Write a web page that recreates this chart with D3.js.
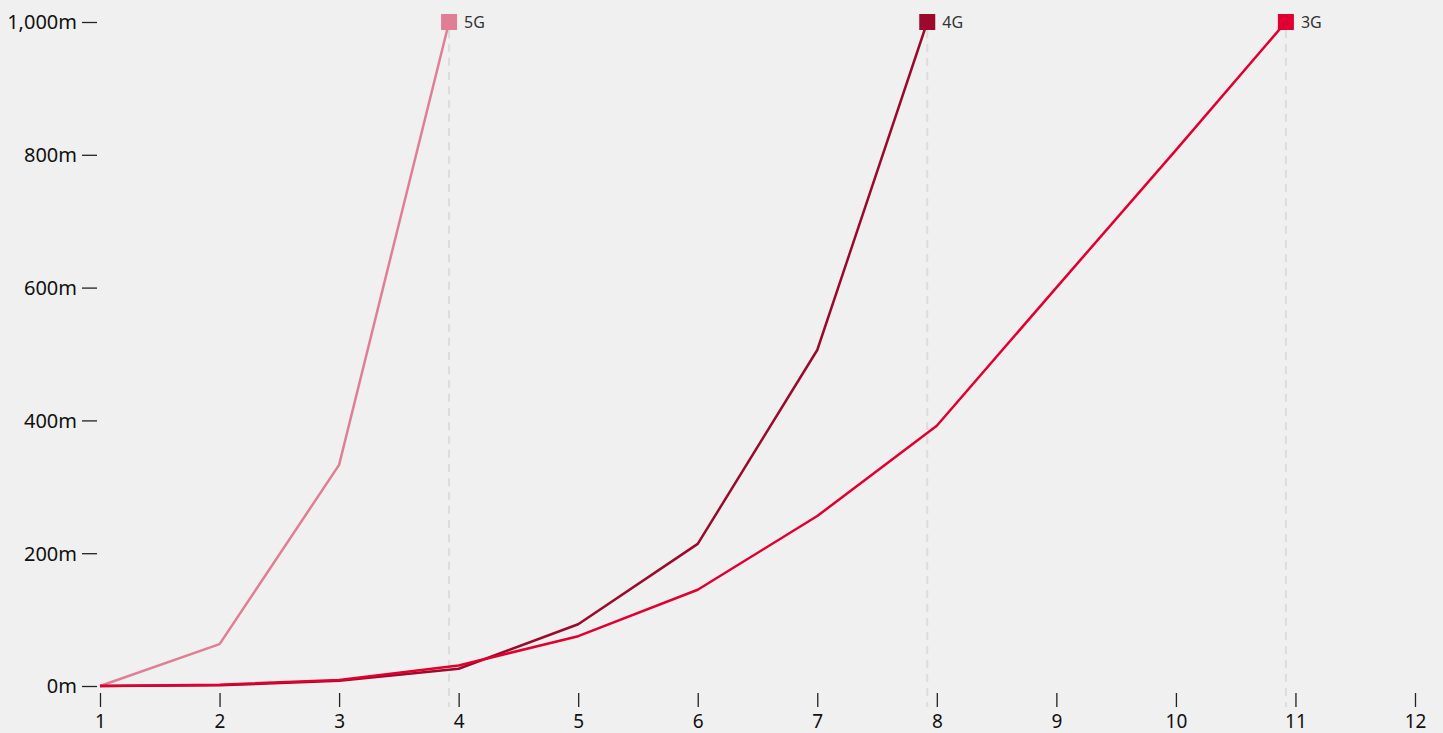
<!DOCTYPE html>
<html><head><meta charset="utf-8">
<script src="https://cdn.jsdelivr.net/npm/d3@7"></script>
<style>
body{margin:0;background:#f0f0f0;}
svg{display:block;font-family:"Noto Sans","Open Sans",sans-serif;}
</style></head>
<body>
<svg id="chart" width="1443" height="733"></svg>
<script>
// Data
const xTicks = [1,2,3,4,5,6,7,8,9,10,11,12];
const yTicks = [0,200,400,600,800,1000];
const seriesNames = ["5G","4G","3G"];
const seriesColors = ["#e07f93","#9b0a2a","#e0002f"];
const x5G = [1,2,3,3.92];
const y5G = [0,63,333,1000];
const x4G = [1,2,3,4,5,6,7,7.92];
const y4G = [0,1,8,26,93,214,506,1000];
const x3G = [1,2,3,4,5,6,7,8,9,10,10.92];
const y3G = [0,2,9,31,75,145,256,392,600,807,1000];

const series = [
  {name:seriesNames[0], color:seriesColors[0], xs:x5G, ys:y5G},
  {name:seriesNames[1], color:seriesColors[1], xs:x4G, ys:y4G},
  {name:seriesNames[2], color:seriesColors[2], xs:x3G, ys:y3G}
];

const FONT = "'Noto Sans','Open Sans',sans-serif";
const svg = d3.select("#chart");
const x = d3.scaleLinear().domain([1,12]).range([100,1415]);
const y = d3.scaleLinear().domain([0,1000]).range([686,22]);

// dashed end markers
series.forEach(s=>{
  const xe = s.xs[s.xs.length-1];
  svg.append("line")
    .attr("x1",x(xe)).attr("x2",x(xe))
    .attr("y1",y(1000)+8).attr("y2",707)
    .attr("stroke","#dcdcdc").attr("stroke-width",2)
    .attr("stroke-dasharray","8,6");
});

// y axis
const yAxis = svg.append("g").attr("transform","translate(97,0)")
  .call(d3.axisLeft(y).tickValues(yTicks).tickSize(15).tickPadding(5)
    .tickFormat(d=>d3.format(",")(d)+"m"))
  .attr("font-family",FONT);
yAxis.select(".domain").remove();
yAxis.selectAll(".tick line").attr("stroke","#222").attr("stroke-width",1.3);
yAxis.selectAll(".tick text").attr("fill","#111").attr("font-size",20)
  .attr("dy","0.34em");

// x axis
const xAxis = svg.append("g").attr("transform","translate(0,693)")
  .call(d3.axisBottom(x).tickValues(xTicks).tickSize(-14).tickPadding(0)
    .tickFormat(d3.format("d")))
  .attr("font-family",FONT);
xAxis.select(".domain").remove();
xAxis.selectAll(".tick line").attr("stroke","#222").attr("stroke-width",1.3)
  .attr("y1",0).attr("y2",14);
xAxis.selectAll(".tick text").attr("fill","#111").attr("font-size",19)
  .attr("y",35).attr("dy",0);

// lines
const line = d3.line().x(d=>x(d[0])).y(d=>y(d[1]));
series.forEach(s=>{
  const pts = s.xs.map((v,i)=>[v,s.ys[i]]);
  svg.append("path").datum(pts)
    .attr("d",line).attr("fill","none")
    .attr("stroke",s.color).attr("stroke-width",2.5)
    .attr("stroke-linejoin","round");
});

// legend squares + labels
series.forEach(s=>{
  const xe = s.xs[s.xs.length-1], ye = s.ys[s.ys.length-1];
  svg.append("rect")
    .attr("x",x(xe)-8).attr("y",y(ye)-8)
    .attr("width",16).attr("height",16)
    .attr("fill",s.color);
  svg.append("text")
    .attr("x",x(xe)+15).attr("y",y(ye)).attr("dy","0.36em")
    .attr("font-size",16).attr("fill","#333")
    .text(s.name);
});
</script>
</body></html>
